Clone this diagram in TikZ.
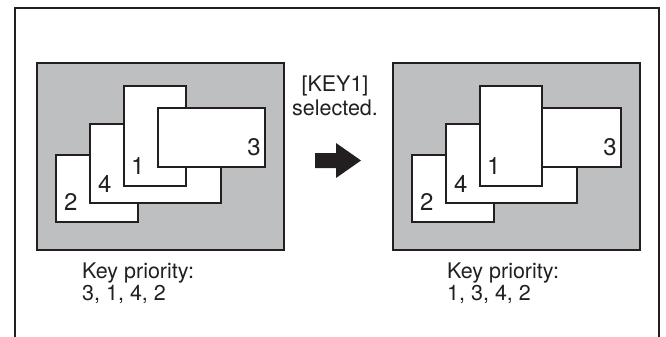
\documentclass[tikz,border=0pt]{standalone}
\usepackage{fontspec}
\setmainfont{TeX Gyre Heros}
\definecolor{panelgray}{RGB}{190,191,193}
\definecolor{ink}{RGB}{35,31,32}
\begin{document}
\begin{tikzpicture}[x=1pt,y=-1pt,
  win/.style={draw=ink,line width=2pt,fill=white},
  panel/.style={draw=ink,line width=2pt,fill=panelgray},
  frame/.style={draw=ink,line width=2pt},
  digit/.style={font=\fontsize{24}{24}\selectfont,text=ink,inner sep=0pt},
  caption/.style={font=\fontsize{21.5}{23}\selectfont,text=ink,inner sep=0pt,anchor=base west}]
\useasboundingbox (0,0) rectangle (666,337);
% outer frame (open at bottom)
\draw[frame] (15,337) -- (15,8) -- (659,8) -- (659,337);
% ---------- left panel ----------
\draw[panel] (37,63) rectangle (284,250);
\draw[win] (56,155) rectangle (138,222);
\draw[win] (90,124) rectangle (221,203);
\draw[win] (124,86) rectangle (186,186);
\draw[win] (158,108) rectangle (265,167);
\node[digit,anchor=base west] (L2) at (64,210) {2};
\node[digit,anchor=base west] (L4) at (98,192) {4};
\node[digit,anchor=base west] (L1) at (131,174) {1};
\node[digit,anchor=base east] (L3) at (261,155) {3};
\node[caption] (Lk) at (82,278) {Key priority:};
\node[caption] (Lp) at (82,300) {3, 1, 4, 2};
% ---------- middle ----------
\node[font=\fontsize{21.5}{23}\selectfont,text=ink,inner sep=0pt,anchor=base] (k1) at (335,92) {[KEY1]};
\node[font=\fontsize{21.5}{23}\selectfont,text=ink,inner sep=0pt,anchor=base] (sel) at (335,115) {selected.};
\fill[ink] (315,153) -- (336,153) -- (336,143) -- (361,160.5) -- (336,178) -- (336,168) -- (315,168) -- cycle;
% ---------- right panel ----------
\draw[panel] (393,63) rectangle (640,250);
\draw[win] (412,155) rectangle (494,222);
\draw[win] (446,124) rectangle (577,203);
\draw[win] (514,108) rectangle (621,167);
\draw[win] (480,86) rectangle (542,186);
\node[digit,anchor=base west] (R2) at (420,210) {2};
\node[digit,anchor=base west] (R4) at (454,192) {4};
\node[digit,anchor=base west] (R1) at (487,174) {1};
\node[digit,anchor=base east] (R3) at (617,155) {3};
\node[caption] (Rk) at (447,278) {Key priority:};
\node[caption] (Rp) at (447,300) {1, 3, 4, 2};
\end{tikzpicture}
\end{document}
